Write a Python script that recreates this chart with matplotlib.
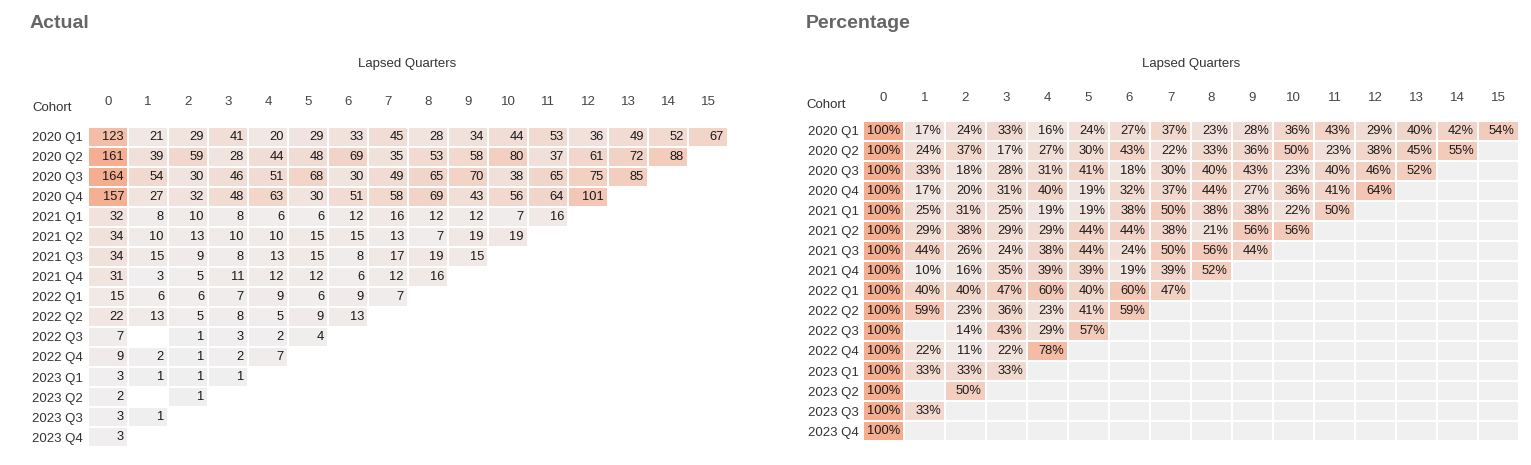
"""
Cohort tables: actual counts and percentage of cohort, by lapsed quarters.
"""
import numpy as np
import matplotlib
matplotlib.use("Agg")
import matplotlib.pyplot as plt
from matplotlib.colors import LinearSegmentedColormap

plt.rcParams["font.family"] = ["Liberation Sans", "DejaVu Sans"]

W, H = 1531, 465

cohorts = ["2020 Q1", "2020 Q2", "2020 Q3", "2020 Q4",
           "2021 Q1", "2021 Q2", "2021 Q3", "2021 Q4",
           "2022 Q1", "2022 Q2", "2022 Q3", "2022 Q4",
           "2023 Q1", "2023 Q2", "2023 Q3", "2023 Q4"]
quarters = list(range(16))

# None = empty cell
actual = [
    [123, 21, 29, 41, 20, 29, 33, 45, 28, 34, 44, 53, 36, 49, 52, 67],
    [161, 39, 59, 28, 44, 48, 69, 35, 53, 58, 80, 37, 61, 72, 88],
    [164, 54, 30, 46, 51, 68, 30, 49, 65, 70, 38, 65, 75, 85],
    [157, 27, 32, 48, 63, 30, 51, 58, 69, 43, 56, 64, 101],
    [32, 8, 10, 8, 6, 6, 12, 16, 12, 12, 7, 16],
    [34, 10, 13, 10, 10, 15, 15, 13, 7, 19, 19],
    [34, 15, 9, 8, 13, 15, 8, 17, 19, 15],
    [31, 3, 5, 11, 12, 12, 6, 12, 16],
    [15, 6, 6, 7, 9, 6, 9, 7],
    [22, 13, 5, 8, 5, 9, 13],
    [7, None, 1, 3, 2, 4],
    [9, 2, 1, 2, 7],
    [3, 1, 1, 1],
    [2, None, 1],
    [3, 1],
    [3],
]

percent = [
    [100, 17, 24, 33, 16, 24, 27, 37, 23, 28, 36, 43, 29, 40, 42, 54],
    [100, 24, 37, 17, 27, 30, 43, 22, 33, 36, 50, 23, 38, 45, 55],
    [100, 33, 18, 28, 31, 41, 18, 30, 40, 43, 23, 40, 46, 52],
    [100, 17, 20, 31, 40, 19, 32, 37, 44, 27, 36, 41, 64],
    [100, 25, 31, 25, 19, 19, 38, 50, 38, 38, 22, 50],
    [100, 29, 38, 29, 29, 44, 44, 38, 21, 56, 56],
    [100, 44, 26, 24, 38, 44, 24, 50, 56, 44],
    [100, 10, 16, 35, 39, 39, 19, 39, 52],
    [100, 40, 40, 47, 60, 40, 60, 47],
    [100, 59, 23, 36, 23, 41, 59],
    [100, None, 14, 43, 29, 57],
    [100, 22, 11, 22, 78],
    [100, 33, 33, 33],
    [100, None, 50],
    [100, 33],
    [100],
]


def to_grid(rows):
    g = np.full((len(cohorts), len(quarters)), np.nan)
    for i, r in enumerate(rows):
        for j, v in enumerate(r):
            if v is not None:
                g[i, j] = v
    return g


def frac(x, y):
    return x / W, 1 - y / H


cmap = LinearSegmentedColormap.from_list("coh", ["#f0efef", "#f5ad90"])
TXT = "#333333"


def draw_table(rect, grid, vmax, fmt, bad, title, title_x, lq_x, lq_y,
               cohort_xy, head_pad, lab_pad, pad_frac):
    x0, y0, x1, y1 = rect
    ax = fig.add_axes([x0 / W, 1 - y1 / H, (x1 - x0) / W, (y1 - y0) / H])
    cm = cmap.copy()
    cm.set_bad(bad)
    ax.pcolormesh(np.ma.masked_invalid(grid), cmap=cm, vmin=0, vmax=vmax,
                  edgecolors="white", linewidth=0.2)
    ax.set_xlim(0, len(quarters))
    ax.set_ylim(len(cohorts), 0)
    for s in ax.spines.values():
        s.set_visible(False)
    ax.xaxis.tick_top()
    ax.set_xticks(np.arange(len(quarters)) + 0.5)
    ax.set_xticklabels([str(q) for q in quarters], fontsize=9.5, color="#444444")
    ax.set_yticks(np.arange(len(cohorts)) + 0.5)
    ax.set_yticklabels(cohorts, fontsize=9.5, color=TXT, ha="left")
    ax.tick_params(axis="x", length=0, pad=head_pad)
    ax.tick_params(axis="y", length=0, pad=lab_pad)
    for i in range(grid.shape[0]):
        for j in range(grid.shape[1]):
            v = grid[i, j]
            if np.isnan(v):
                continue
            ax.text(j + 1 - pad_frac, i + 0.5, fmt(v), ha="right", va="center",
                    fontsize=9.3, color="#1a1a1a")
    fig.text(*frac(title_x, 24), title, fontsize=14, fontweight="bold",
             color="#666666", ha="left", va="center")
    fig.text(*frac(lq_x, lq_y), "Lapsed Quarters", fontsize=9.5, color=TXT,
             ha="center", va="center")
    fig.text(*frac(*cohort_xy), "Cohort", fontsize=9.5, color=TXT,
             ha="left", va="center")
    return ax


fig = plt.figure(figsize=(W / 100, H / 100), dpi=100)

# left: actual counts, empty cells white
draw_table((88, 127, 728, 447), to_grid(actual), 164,
           lambda v: f"{int(v)}", "white", "Actual", 30, 407, 64,
           (32, 108), 13.5, 40.3, 0.1)

# right: percentage of cohort, empty cells light gray
draw_table((863, 121, 1519, 441), to_grid(percent), 100,
           lambda v: f"{int(v)}%", "#f0f0f0", "Percentage", 806, 1191, 64,
           (806, 105), 12.5, 39.6, 0.1)

plt.savefig("out.png", dpi=100)
plt.close()
print("saved out.png")
